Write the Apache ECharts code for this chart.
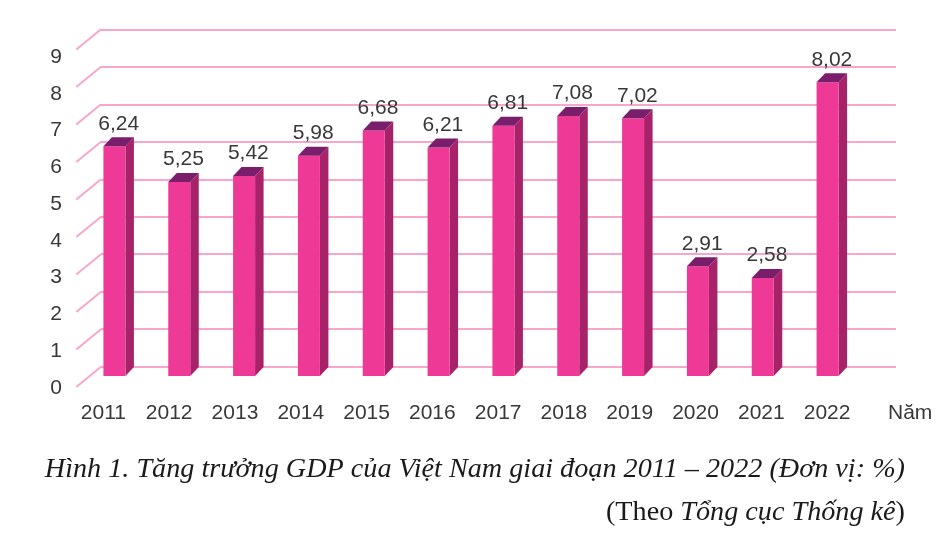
<!DOCTYPE html>
<html>
<head>
<meta charset="utf-8">
<script src="https://cdn.jsdelivr.net/npm/echarts@6/dist/echarts.min.js"></script>
<style>
  html, body { margin: 0; padding: 0; background: #ffffff; }
  #chart { width: 946px; height: 536px; }
</style>
</head>
<body>
<div id="chart"></div>
<script>
// ---- data ----
const years = ['2011', '2012', '2013', '2014', '2015', '2016', '2017', '2018', '2019', '2020', '2021', '2022'];
const gdpGrowth = [6.24, 5.25, 5.42, 5.98, 6.68, 6.21, 6.81, 7.08, 7.02, 2.91, 2.58, 8.02];
const yMin = 0, yMax = 9, yStep = 1;
const gridTicks = [0, 1, 2, 3, 4, 5, 6, 7, 8, 9];
const xAxisName = 'Năm';
const captionLine1 = 'Hình 1. Tăng trưởng GDP của Việt Nam giai đoạn 2011 – 2022 (Đơn vị: %)';
const sourcePrefix = '(Theo ';
const sourceName = 'Tổng cục Thống kê';
const sourceSuffix = ')';

// ---- styles ----
const FRONT = '#EE3A96';
const SIDE = '#A8226A';
const TOP = '#7A1E6C';
const GRIDC = '#F9A6CD';
const TEXTC = '#383838';
const FONT = '"Liberation Sans", Arial, sans-serif';
const SERIF = '"Liberation Serif", "Times New Roman", serif';
const fmt = v => v.toFixed(2).replace('.', ',');

const chart = echarts.init(document.getElementById('chart'), null, { renderer: 'canvas' });

const DX = 8.5, DY = 9, BW = 22;

function renderBar(params, api) {
  const idx = api.value(0);
  const v = api.value(1);
  const top = api.coord([idx, v]);
  const base = api.coord([idx, 0]);
  const x0 = top[0] - BW / 2, x1 = top[0] + BW / 2;
  const yT = top[1], yB = base[1] + 5;
  return {
    type: 'group',
    children: [
      { type: 'polygon', shape: { points: [[x1, yT], [x1 + DX, yT - DY], [x1 + DX, yB - DY], [x1, yB]] }, style: { fill: SIDE } },
      { type: 'rect', shape: { x: x0, y: yT, width: BW, height: yB - yT }, style: { fill: FRONT } },
      { type: 'polygon', shape: { points: [[x0, yT], [x1, yT], [x1 + DX, yT - DY], [x0 + DX, yT - DY]] }, style: { fill: TOP } },
      { type: 'text', style: { text: fmt(v), x: top[0] + DX / 2, y: yT - DY - 13.5, textAlign: 'center', textVerticalAlign: 'middle', font: '21px ' + FONT, fill: TEXTC } }
    ]
  };
}

function renderDiag(params, api) {
  const p = api.coord([0, api.value(0)]);
  return {
    type: 'line',
    shape: { x1: p[0] - 24.7, y1: p[1] + 20.3, x2: p[0], y2: p[1] },
    style: { stroke: GRIDC, lineWidth: 2 }
  };
}

const option = {
  backgroundColor: '#ffffff',
  animation: false,
  grid: [
    { left: 101, right: 50, top: 29.3, bottom: 169.3 },      // back wall
    { left: 82, right: 86, top: 47, bottom: 165 },           // bars
    { left: 70.5, right: 86, top: 300, bottom: 133.5 },       // x labels
    { left: 70, right: 850, top: 57, bottom: 148 }            // y labels
  ],
  xAxis: [
    { gridIndex: 0, type: 'value', min: 0, max: 1, show: false },
    { gridIndex: 1, type: 'category', data: years, show: false },
    {
      gridIndex: 2, type: 'category', data: years,
      axisLine: { show: false }, axisTick: { show: false }, splitLine: { show: false },
      axisLabel: { margin: 0, fontSize: 21, lineHeight: 21, verticalAlign: 'top', color: TEXTC, fontFamily: FONT },
      name: xAxisName, nameLocation: 'end', nameGap: 28,
      nameTextStyle: { fontSize: 21, lineHeight: 21, verticalAlign: 'top', align: 'left', color: TEXTC, fontFamily: FONT }
    },
    { gridIndex: 3, type: 'value', show: false }
  ],
  yAxis: [
    { gridIndex: 0, type: 'value', min: yMin, max: yMax, interval: yStep,
      axisLine: { show: false }, axisTick: { show: false }, axisLabel: { show: false },
      splitLine: { show: true, lineStyle: { color: GRIDC, width: 2 } } },
    { gridIndex: 1, type: 'value', min: yMin, max: yMax, interval: yStep, show: false },
    { gridIndex: 2, type: 'value', show: false },
    { gridIndex: 3, type: 'value', min: yMin, max: yMax, interval: yStep,
      axisLine: { show: false }, axisTick: { show: false }, splitLine: { show: false },
      axisLabel: { margin: 8, fontSize: 21, color: TEXTC, fontFamily: FONT } }
  ],
  series: [
    {
      type: 'custom', xAxisIndex: 0, yAxisIndex: 0,
      renderItem: renderDiag,
      data: gridTicks.map(t => [t]),
      encode: { y: 0 },
      silent: true
    },
    {
      type: 'custom', xAxisIndex: 1, yAxisIndex: 1,
      renderItem: renderBar,
      data: gdpGrowth.map((v, i) => [i, v]),
      encode: { x: 0, y: 1 },
      z: 3
    }
  ],
  graphic: [
    {
      type: 'text', z: 10,
      style: {
        text: captionLine1, x: 905, y: 470, textAlign: 'right', textVerticalAlign: 'middle',
        font: 'italic 28.2px ' + SERIF, fill: '#1a1a1a'
      }
    },
    {
      type: 'text', z: 10,
      style: {
        text: '{n|' + sourcePrefix + '}{i|' + sourceName + '}{n|' + sourceSuffix + '}',
        x: 905, y: 513, textAlign: 'right', textVerticalAlign: 'middle',
        rich: {
          n: { font: '28.2px ' + SERIF, fill: '#1a1a1a', color: '#1a1a1a' },
          i: { font: 'italic 28.2px ' + SERIF, fill: '#1a1a1a', color: '#1a1a1a' }
        }
      }
    }
  ]
};

chart.setOption(option);
</script>
</body>
</html>
